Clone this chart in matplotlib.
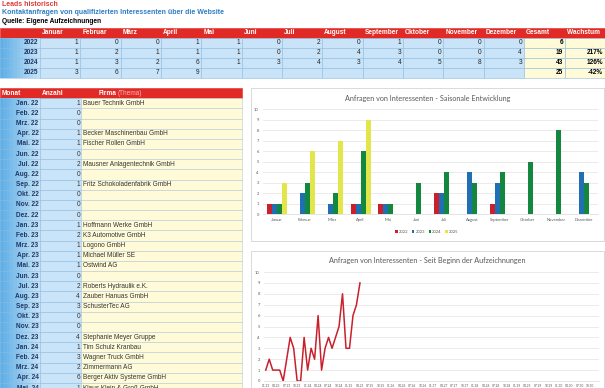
import numpy as np
import matplotlib
matplotlib.use("Agg")
import matplotlib.pyplot as plt
from matplotlib.patches import Rectangle

# Table data
months = ['Januar', 'Februar', 'März', 'April', 'Mai', 'Juni', 'Juli',
          'August', 'September', 'Oktober', 'November', 'Dezember']
month_abbr = ['Jan.', 'Feb.', 'Mrz.', 'Apr.', 'Mai.', 'Jun.', 'Jul.',
              'Aug.', 'Sep.', 'Okt.', 'Nov.', 'Dez.']
years = ['2022', '2023', '2024', '2025']
leads_2022 = [1, 0, 0, 1, 1, 0, 2, 0, 1, 0, 0, 0]
leads_2023 = [1, 2, 1, 1, 1, 0, 2, 4, 3, 0, 0, 4]
leads_2024 = [1, 3, 2, 6, 1, 3, 4, 3, 4, 5, 8, 3]
leads_2025 = [3, 6, 7, 9, None, None, None, None, None, None, None, None]

firms = ['Bauer Technik GmbH', '', '', 'Becker Maschinenbau GmbH',
         'Fischer Rollen GmbH', '', 'Mausner Anlagentechnik GmbH', '',
         'Fritz Schokoladenfabrik GmbH', '', '', '',
         'Hoffmann Werke GmbH', 'K3 Automotive GmbH', 'Logono GmbH',
         'Michael Müller SE', 'Ostwind AG', '', 'Roberts Hydraulik e.K.',
         'Zauber Hanuas GmbH', 'SchusterTec AG', '', '',
         'Stephanie Meyer Gruppe', 'Tim Schulz Kranbau', 'Wagner Truck GmbH',
         'Zimmermann AG', 'Berger Aktiv Systeme GmbH', 'Klaus Klein & Groß GmbH']

series = [leads_2022, leads_2023, leads_2024, leads_2025]
bar_colors = ['#C8202C', '#1F6FB2', '#13873E', '#E3E64A']

W, H = 605, 388
fig = plt.figure(figsize=(W / 100, H / 100), dpi=100)
bg = fig.add_axes([0, 0, 1, 1])
bg.set_xlim(0, W)
bg.set_ylim(H, 0)
bg.axis('off')

TF = 'Liberation Sans'
fs = 4.7
red = '#E12A26'
navy = '#1F3864'
light_blue = '#C9E4F8'
yellow = '#FFFBD9'
edge = '#8FBCE0'


def cell(x0, y0, x1, y1, color, ec=edge):
    bg.add_patch(Rectangle((x0, y0), x1 - x0, y1 - y0, facecolor=color,
                           edgecolor=ec, linewidth=0.4))


def grad_cell(x0, y0, x1, y1):
    n = 12
    c0 = np.array(matplotlib.colors.to_rgb('#5FAEE6'))
    c1 = np.array(matplotlib.colors.to_rgb('#C3E2F7'))
    w = (x1 - x0) / n
    for k in range(n):
        c = c0 + (c1 - c0) * k / (n - 1)
        bg.add_patch(Rectangle((x0 + k * w, y0), w + 0.3, y1 - y0,
                               facecolor=c, edgecolor='none'))
    bg.add_patch(Rectangle((x0, y0), x1 - x0, y1 - y0, facecolor='none',
                           edgecolor=edge, linewidth=0.4))


# titles
bg.text(2, 4.5, 'Leads historisch', color='#E03A36', fontsize=fs + 0.3,
        fontweight='bold', family=TF, va='center')
bg.text(2, 13, 'Kontaktanfragen von qualifizierten Interessenten über die Website',
        color='#2E7DC4', fontsize=fs + 0.3, fontweight='bold', family=TF, va='center')
bg.text(2, 21.8, 'Quelle: Eigene Aufzeichnungen', color='black', fontsize=fs + 0.1,
        fontweight='bold', family=TF, va='center')

# top table
col_w = (524 - 40) / 12
xs = [0, 40] + [40 + (i + 1) * col_w for i in range(12)] + [565, 605]
top0, rh = 27.5, 10.1
cell(0, top0, 605, top0 + rh, red, ec=red)
for j, m in enumerate(months):
    bg.text(xs[j + 1] + 2, top0 + rh / 2, m, color='white', fontsize=fs,
            fontweight='bold', family=TF, va='center')
bg.text(526, top0 + rh / 2, 'Gesamt', color='white', fontsize=fs,
        fontweight='bold', family=TF, va='center')
bg.text(567, top0 + rh / 2, 'Wachstum', color='white', fontsize=fs,
        fontweight='bold', family=TF, va='center')

totals = [sum(v for v in s if v is not None) for s in series]
for i, (yr, s) in enumerate(zip(years, series)):
    y0 = top0 + rh * (i + 1)
    grad_cell(0, y0, 40, y0 + rh)
    bg.text(38, y0 + rh / 2, yr, color=navy, fontsize=fs, fontweight='bold',
            family=TF, va='center', ha='right')
    for j, v in enumerate(s):
        cell(xs[j + 1], y0, xs[j + 2], y0 + rh, light_blue)
        if v is not None:
            bg.text(xs[j + 2] - 2, y0 + rh / 2, str(v), color='#222222',
                    fontsize=fs, family=TF, va='center', ha='right')
    cell(524, y0, 565, y0 + rh, yellow)
    cell(565, y0, 605, y0 + rh, yellow)
    bg.text(563, y0 + rh / 2, str(totals[i]), color='black', fontsize=fs,
            fontweight='bold', family=TF, va='center', ha='right')
    if i > 0:
        g = totals[i] / totals[i - 1] - 1
        bg.text(603, y0 + rh / 2, f'{g * 100:.0f}%', color='black', fontsize=fs,
                fontweight='bold', family=TF, va='center', ha='right')

# left table
lt0, lrh = 88, 10.17
cell(0, lt0, 242, lt0 + lrh, red, ec=red)
bg.text(2, lt0 + lrh / 2, 'Monat', color='white', fontsize=fs, fontweight='bold',
        family=TF, va='center')
bg.text(42, lt0 + lrh / 2, 'Anzahl', color='white', fontsize=fs, fontweight='bold',
        family=TF, va='center')
bg.text(99, lt0 + lrh / 2, 'Firma', color='white', fontsize=fs, fontweight='bold',
        family=TF, va='center')
bg.text(117.5, lt0 + lrh / 2, '(Thema)', color='#F6B8B8', fontsize=fs,
        family=TF, va='center')

counts = leads_2022 + leads_2023 + leads_2024
labels = [f'{m} {yy}' for yy in ['22', '23', '24'] for m in month_abbr]
for i, firm in enumerate(firms):
    y0 = lt0 + lrh * (i + 1)
    grad_cell(0, y0, 40, y0 + lrh)
    cell(40, y0, 81, y0 + lrh, light_blue)
    cell(81, y0, 242, y0 + lrh, yellow, ec='#B8C9D6')
    bg.text(38.5, y0 + lrh / 2, labels[i], color=navy, fontsize=fs,
            fontweight='bold', family=TF, va='center', ha='right')
    bg.text(80, y0 + lrh / 2, str(counts[i]), color='#333333', fontsize=fs,
            family=TF, va='center', ha='right')
    bg.text(83, y0 + lrh / 2, firm, color='#333333', fontsize=fs,
            family=TF, va='center')

# chart frames
for (x0, y0, x1, y1) in [(251, 88, 604, 241), (251, 251, 604, 400)]:
    bg.add_patch(Rectangle((x0 + 1, y0 + 1), x1 - x0, y1 - y0, facecolor='#EEEEEE',
                           edgecolor='none'))
    bg.add_patch(Rectangle((x0, y0), x1 - x0, y1 - y0, facecolor='white',
                           edgecolor='#D4D4D4', linewidth=0.6))


def px_axes(x0, y0, x1, y1):
    return fig.add_axes([x0 / W, 1 - y1 / H, (x1 - x0) / W, (y1 - y0) / H])


CF = 'Lato'
grey = '#595959'

# bar chart
ax = px_axes(263, 109, 597.5, 214)
x = np.arange(12)
bw = 0.18
for k, (yr, s, c) in enumerate(zip(years, series, bar_colors)):
    vals = [np.nan if v is None else v for v in s]
    ax.bar(x + (k - 1.5) * bw, vals, bw, color=c, label=yr, zorder=3)
ax.set_xlim(-0.5, 11.5)
ax.set_ylim(0, 10)
ax.set_yticks(range(11))
ax.grid(axis='y', color='#E3E3E3', linewidth=0.5, zorder=0)
ax.set_xticks(x)
ax.set_xticklabels(months)
ax.tick_params(length=0, labelsize=3, labelcolor=grey, pad=3)
for t in ax.get_xticklabels() + ax.get_yticklabels():
    t.set_family(CF)
for sp in ['top', 'right', 'left']:
    ax.spines[sp].set_visible(False)
ax.spines['bottom'].set_color('#D9D9D9')
ax.spines['bottom'].set_linewidth(0.5)
ax.legend(loc='center', bbox_to_anchor=(0.49, -0.17), ncol=4, frameon=False,
          prop={'family': CF, 'size': 3}, handlelength=0.6, handleheight=0.6,
          columnspacing=0.8, handletextpad=0.3, labelcolor=grey)
bg.text(427.5, 98, 'Anfragen von Interessenten - Saisonale Entwicklung',
        color=grey, fontsize=5.2, family=CF, ha='center', va='center')

# line chart (since Jan. 2023)
history = leads_2023 + leads_2024 + [v for v in leads_2025 if v is not None]
n_months = 96
time_labels = [f'{m:02d}.{y % 100}' for y in range(2023, 2031) for m in range(1, 13)]
ax2 = px_axes(264, 272, 599, 381)
ax2.plot(range(len(history)), history, color='#C8202C', linewidth=1.1, zorder=3)
ax2.set_xlim(-0.5, n_months - 0.5)
ax2.set_ylim(0, 10)
ax2.set_yticks(range(11))
ax2.set_xticks(range(0, n_months, 3))
ax2.set_xticklabels(time_labels[::3])
ax2.grid(axis='y', color='#E3E3E3', linewidth=0.5, zorder=0)
ax2.tick_params(length=0, labelsize=3, labelcolor=grey, pad=3)
ax2.tick_params(axis='x', labelsize=2.3, pad=2)
for t in ax2.get_xticklabels() + ax2.get_yticklabels():
    t.set_family(CF)
for sp in ['top', 'right', 'left']:
    ax2.spines[sp].set_visible(False)
ax2.spines['bottom'].set_color('#D9D9D9')
ax2.spines['bottom'].set_linewidth(0.5)
bg.text(427.5, 261, 'Anfragen von Interessenten - Seit Beginn der Aufzeichnungen',
        color=grey, fontsize=5.2, family=CF, ha='center', va='center')

fig.savefig('out.png', dpi=100)
